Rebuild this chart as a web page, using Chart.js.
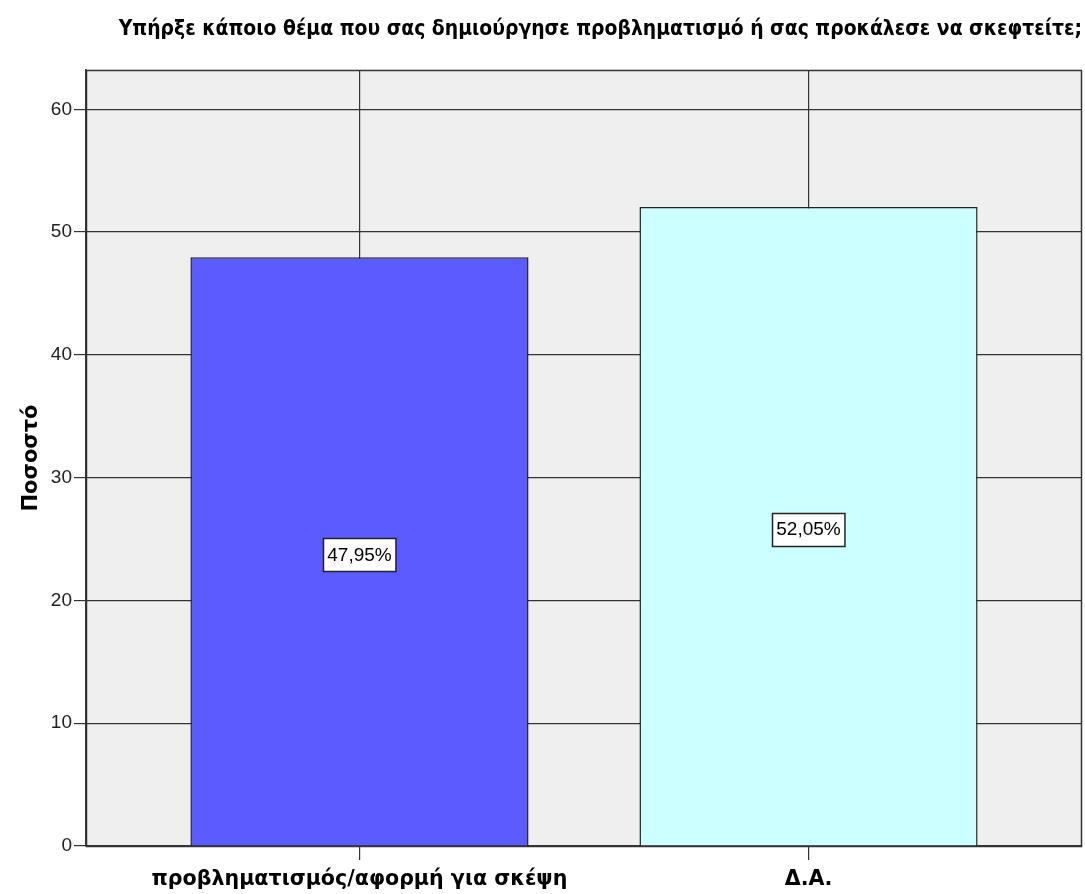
<!DOCTYPE html>
<html>
<head>
<meta charset="utf-8">
<script src="https://cdn.jsdelivr.net/npm/chart.js@4/dist/chart.umd.min.js"></script>
<style>
  body { margin: 0; background: #fff; }
  #wrap { width: 1085px; height: 894px; }
</style>
</head>
<body>
<div id="wrap"><canvas id="myChart" width="1085" height="894"></canvas></div>
<script>
const chartTitle = 'Υπήρξε κάποιο θέμα που σας δημιούργησε προβληματισμό ή σας προκάλεσε να σκεφτείτε;';
const yTitle = 'Ποσοστό';
const categories = ['προβληματισμός/αφορμή για σκέψη', 'Δ.Α.'];
const percentValues = [47.95, 52.05];
const barColors = ['#5b5bff', '#ccffff'];
const yTicks = [0, 10, 20, 30, 40, 50, 60];

const cond = "'DejaVu Sans Condensed', 'DejaVu Sans', sans-serif";
const dejavu = "'DejaVu Sans', sans-serif";
const sans = "'Liberation Sans', Arial, sans-serif";

// grey plot background + frame around it
const plotFrame = {
  id: 'plotFrame',
  beforeDraw(chart) {
    const a = chart.chartArea, c = chart.ctx;
    c.save();
    c.fillStyle = '#efefef';
    c.fillRect(a.left, a.top, a.right - a.left, a.bottom - a.top);
    c.restore();
  },
  afterDraw(chart) {
    const a = chart.chartArea, c = chart.ctx;
    c.save();
    c.strokeStyle = '#333';
    c.lineWidth = 1.5;
    c.strokeRect(a.left + 0.5, a.top + 0.5, a.right - a.left - 1, a.bottom - a.top);
    c.restore();
  }
};

// boxed percentage labels in the middle of each bar
const boxLabels = {
  id: 'boxLabels',
  afterDatasetsDraw(chart) {
    const c = chart.ctx;
    const meta = chart.getDatasetMeta(0);
    c.save();
    c.font = '19px ' + sans;
    c.textAlign = 'center';
    c.textBaseline = 'middle';
    meta.data.forEach((bar, i) => {
      const txt = percentValues[i].toFixed(2).replace('.', ',') + '%';
      const w = c.measureText(txt).width + 8;
      const h = 33;
      const mid = (bar.y + bar.base) / 2 + 3;
      const x0 = Math.round(bar.x - w / 2) + 0.5, y0 = Math.round(mid - h / 2) + 0.5;
      c.fillStyle = '#fff';
      c.fillRect(x0, y0, w, h);
      c.strokeStyle = '#222';
      c.lineWidth = 1.5;
      c.strokeRect(x0, y0, w, h);
      c.fillStyle = '#000';
      c.fillText(txt, bar.x, mid + 1);
    });
    c.restore();
  }
};

let ctx = document.getElementById('myChart').getContext('2d');
let myChart = new Chart(ctx, {
  type: 'bar',
  data: {
    datasets: [{
      data: percentValues.map((v, i) => ({ x: i, y: v })),
      backgroundColor: barColors,
      borderColor: '#222',
      borderWidth: 1.5,
      categoryPercentage: 1,
      barPercentage: 0.753
    }]
  },
  options: {
    responsive: false,
    animation: false,
    layout: { padding: { top: 0, right: 3, left: 0, bottom: 0 } },
    plugins: {
      legend: { display: false },
      tooltip: { enabled: false },
      title: {
        display: true,
        text: chartTitle,
        align: 'end',
        color: '#000',
        font: { family: cond, size: 20.9, weight: 'bold' },
        padding: { top: 17, bottom: 27.9 }
      }
    },
    scales: {
      x: {
        type: 'linear',
        offset: false,
        min: -0.609,
        max: 1.609,
        afterBuildTicks: s => { s.ticks = categories.map((c, i) => ({ value: i })); },
        afterFit: s => { s.height = 48; },
        grid: { color: '#333', lineWidth: 1.2, tickLength: 14, offset: false },
        border: { color: '#333', width: 1.5 },
        ticks: {
          callback: v => categories[v],
          color: '#000',
          padding: 7,
          maxRotation: 0,
          font: { family: dejavu, size: 20.6, weight: 'bold' }
        }
      },
      y: {
        min: 0,
        max: 63.2,
        afterBuildTicks: s => { s.ticks = yTicks.map(v => ({ value: v })); },
        afterFit: s => { s.width = 86; },
        grid: { color: '#333', lineWidth: 1.2, tickLength: 12 },
        border: { color: '#333', width: 1.5 },
        ticks: {
          color: '#222',
          padding: 2,
          font: { family: sans, size: 19 }
        },
        title: {
          display: true,
          text: yTitle,
          color: '#000',
          font: { family: dejavu, size: 21, weight: 'bold' },
          padding: { top: 19, bottom: 0 }
        }
      }
    }
  },
  plugins: [plotFrame, boxLabels]
});
</script>
</body>
</html>
